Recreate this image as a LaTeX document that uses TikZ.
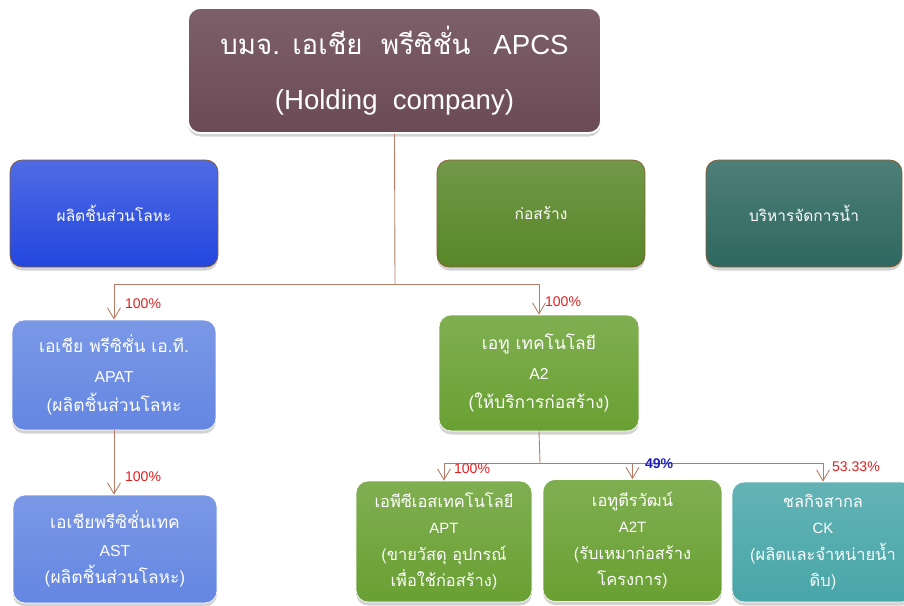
\documentclass[tikz,border=0pt]{standalone}
\usepackage{fontspec}
\setmainfont{Liberation Sans}
\newfontfamily\thaifont[Script=Thai,Scale=1.1]{Loma}
\newfontfamily\thaitop[Script=Thai]{Loma}
\usetikzlibrary{arrows.meta,shadows}

\definecolor{holdcol}{RGB}{107,74,85}
\definecolor{metalcol}{RGB}{35,70,222}
\definecolor{buildcol}{RGB}{88,134,40}
\definecolor{watercol}{RGB}{46,104,96}
\definecolor{lbluecol}{RGB}{100,134,226}
\definecolor{lgreencol}{RGB}{105,160,50}
\definecolor{lwatercol}{RGB}{72,166,168}
\definecolor{linecol}{RGB}{180,124,100}
\definecolor{pctred}{RGB}{226,30,30}
\definecolor{pctblue}{RGB}{30,30,190}

\newcommand{\tht}[1]{{\thaifont #1}}

\begin{document}
\begin{tikzpicture}[x=0.02cm, y=-0.02cm,
	box/.style={rounded corners=0.24cm, align=center, text=white, inner sep=0pt,
		drop shadow={shadow xshift=0pt, shadow yshift=-2pt, opacity=.35}},
	conn/.style={color=linecol, line width=0.5pt},
	pct/.style={anchor=west, inner sep=1pt, font=\fontsize{8}{9}\selectfont}]
	\useasboundingbox (0,0) rectangle (904,606);

	% holding company
	\node[box, draw=white, line width=1pt, top color=holdcol!88!white, bottom color=holdcol,
		minimum width=8.26cm, minimum height=2.5cm,
		font=\fontsize{15.7}{30.5}\selectfont] (hold) at (394.5,70.5)
		{{\thaitop บมจ. เอเชีย\ \ พรีซิชั่น}\ \ \ APCS\\[1pt](Holding\ \ company)};

	% business groups
	\node[box, draw=brown!70!black, top color=metalcol!80!white, bottom color=metalcol,
		minimum width=4.16cm, minimum height=2.14cm, font=\fontsize{8}{10}\selectfont]
		(metal) at (114,213.5) {\tht{ผลิตชิ้นส่วนโลหะ}};
	\node[box, draw=brown!70!black, top color=buildcol!85!white, bottom color=buildcol,
		minimum width=4.16cm, minimum height=2.14cm, font=\fontsize{8}{10}\selectfont]
		(build) at (541,213.5) {\tht{ก่อสร้าง}};
	\node[box, draw=brown!70!black, top color=watercol!85!white, bottom color=watercol,
		minimum width=3.92cm, minimum height=2.14cm, font=\fontsize{8}{10}\selectfont]
		(water) at (804,213.5) {\tht{บริหารจัดการน้ำ}};

	% subsidiaries
	\node[box, draw=white, top color=lbluecol!85!white, bottom color=lbluecol,
		minimum width=4.08cm, minimum height=2.2cm, font=\fontsize{9}{17}\selectfont]
		(apat) at (114,375) {\tht{เอเชีย พรีซิชั่น เอ.ที.}\\APAT\\\tht{(ผลิตชิ้นส่วนโลหะ}};
	\node[box, draw=white, top color=lbluecol!85!white, bottom color=lbluecol,
		minimum width=4.08cm, minimum height=2.16cm, font=\fontsize{9}{15.5}\selectfont]
		(ast) at (115,549) {\tht{เอเชียพรีซิชั่นเทค}\\AST\\\tht{(ผลิตชิ้นส่วนโลหะ)}};
	\node[box, draw=white, top color=lgreencol!85!white, bottom color=lgreencol,
		minimum width=4.0cm, minimum height=2.32cm, font=\fontsize{9}{17}\selectfont]
		(a2) at (539,373) {\tht{เอทู เทคโนโลยี}\\A2\\\tht{(ให้บริการก่อสร้าง)}};
	\node[box, draw=white, top color=lgreencol!85!white, bottom color=lgreencol,
		minimum width=3.52cm, minimum height=2.42cm, font=\fontsize{8.5}{15}\selectfont]
		(apt) at (444,541.5) {\tht{เอพีซีเอสเทคโนโลยี}\\APT\\\tht{(ขายวัสดุ อุปกรณ์}\\\tht{เพื่อใช้ก่อสร้าง)}};
	\node[box, draw=white, top color=lgreencol!85!white, bottom color=lgreencol,
		minimum width=3.58cm, minimum height=2.44cm, font=\fontsize{8.5}{15}\selectfont]
		(a2t) at (632.5,540.5) {\tht{เอทูตีรวัฒน์}\\A2T\\\tht{(รับเหมาก่อสร้าง}\\\tht{โครงการ)}};
	\node[box, draw=white, top color=lwatercol!85!white, bottom color=lwatercol,
		minimum width=3.64cm, minimum height=2.4cm, font=\fontsize{8.5}{15}\selectfont]
		(ck) at (823,542) {\tht{ชลกิจสากล}\\CK\\\tht{(ผลิตและจำหน่ายน้ำ}\\\tht{ดิบ)}};

	% connectors
	\coordinate (bus1) at (395,284);
	\coordinate (bus2) at (540,463);
	\draw[conn] (hold.south) -- (bus1);
	\draw[conn, -{Straight Barb[length=2.2mm, width=2.6mm]}] (bus1) -| (apat.north);
	\draw[conn, -{Straight Barb[length=2.2mm, width=2.6mm]}] (bus1) -| (a2.north);
	\draw[conn, -{Straight Barb[length=2.2mm, width=2.6mm]}] (apat.south) -- (apat.south |- ast.north);
	\draw[conn] (a2.south) -- (bus2);
	\draw[conn, -{Straight Barb[length=2.2mm, width=2.6mm]}] (bus2) -| (apt.north);
	\draw[conn, -{Straight Barb[length=2.2mm, width=2.6mm]}] (bus2) -| (a2t.north);
	\draw[conn, -{Straight Barb[length=2.2mm, width=2.6mm]}] (bus2) -| (ck.north);

	% shares
	\node[pct, text=pctred] (p1) at (123,304) {100\%};
	\node[pct, text=pctred] (p2) at (123,477) {100\%};
	\node[pct, text=pctred] (p3) at (543,302) {100\%};
	\node[pct, text=pctred] (p4) at (452,469) {100\%};
	\node[pct, text=pctblue] (p5) at (643,464) {\textbf{49\%}};
	\node[pct, text=pctred] (p6) at (830,467) {53.33\%};
\end{tikzpicture}
\end{document}
